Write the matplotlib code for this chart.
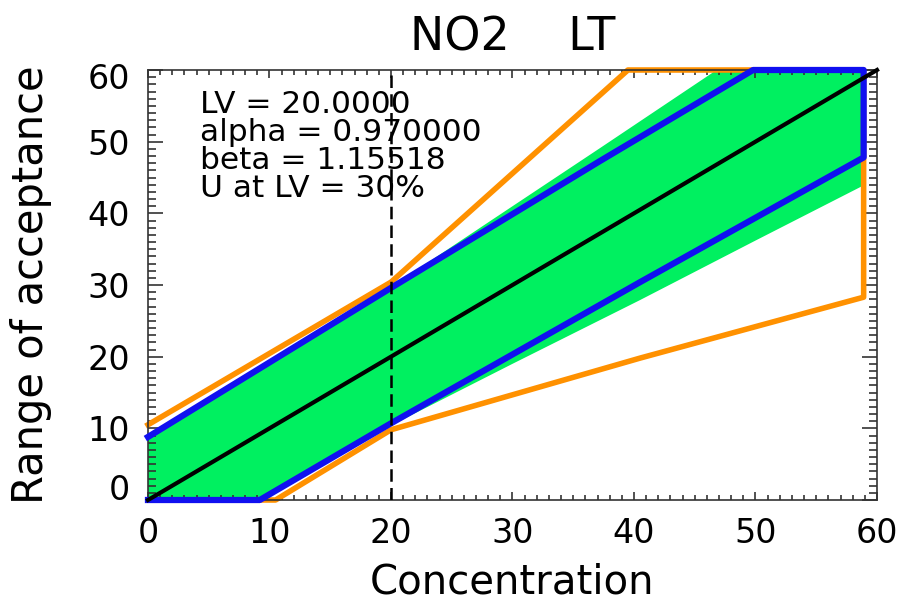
import matplotlib
matplotlib.use("Agg")
import matplotlib.pyplot as plt
from matplotlib.ticker import MultipleLocator
from matplotlib.transforms import ScaledTranslation

# --- values ---
lv = 20.0
annot = ["LV = 20.0000", "alpha = 0.970000", "beta = 1.15518", "U at LV = 30%"]

# green acceptance band (upper edge, lower edge)
green_up_x = [0, 20, 28.5, 37.2, 46.8, 58.9]
green_up_y = [8.8, 29.7, 39.3, 49.1, 60, 60]
green_lo_x = [58.9, 50, 40.5, 30, 20, 9.2, 0]
green_lo_y = [43.9, 36.2, 27.9, 19.0, 10.4, 0, 0]

# blue outline
blue_x = [0, 20, 37.2, 49.8, 58.9, 58.9, 40.5, 20, 9.2, 0]
blue_y = [8.8, 29.6, 47.3, 60, 60, 47.8, 30.4, 10.7, 0, 0]

# orange outline
orange_x = [0, 20, 39.5, 58.9, 58.9, 40.5, 20, 10.5, 0]
orange_y = [10.5, 30.4, 60, 60, 28.3, 19.8, 9.8, 0, 0]

# 1:1 line
diag_x = [0, 60]
diag_y = [0, 60]

xticks = [0, 10, 20, 30, 40, 50, 60]
yticks = [0, 10, 20, 30, 40, 50, 60]

plt.rcParams["font.family"] = ["DejaVu Sans"]

fig = plt.figure(figsize=(9.04, 6.03), dpi=100)
ax = fig.add_axes([148 / 904, 103 / 603, 729 / 904, 430 / 603])

ax.fill(green_up_x + green_lo_x, green_up_y + green_lo_y,
        color="#00F060", lw=0, zorder=1)
ax.plot(orange_x, orange_y, color="#FF9100", lw=4.0, clip_on=False,
        solid_joinstyle="round", zorder=2)
ax.plot(blue_x, blue_y, color="#1010F0", lw=4.5, clip_on=False,
        solid_joinstyle="round", zorder=3)
ax.plot(diag_x, diag_y, color="black", lw=3.0, clip_on=False, zorder=4)
ax.axvline(lv, color="black", lw=1.8, dashes=(5, 2.5), zorder=5)

base = [113, 141, 169, 197]
for s, yb in zip(annot, base):
    ax.text((200 - 148) / 729, (500 - yb) / 430, s, transform=ax.transAxes,
            fontsize=22.5, va="baseline", ha="left", zorder=6)

ax.set_xlim(0, 60)
ax.set_ylim(0, 60)
ax.set_xticks(xticks)
ax.set_yticks(yticks)
ax.xaxis.set_minor_locator(MultipleLocator(1))
ax.yaxis.set_minor_locator(MultipleLocator(1))
ax.tick_params(axis="both", which="both", direction="in", top=True, right=True,
               color="#333333", width=1.2)
ax.tick_params(axis="x", which="major", length=6, labelsize=24, pad=12)
ax.tick_params(axis="x", which="minor", length=3.5)
ax.tick_params(axis="y", which="major", length=11, labelsize=24, pad=13)
ax.tick_params(axis="y", which="minor", length=5.5)
for sp in ax.spines.values():
    sp.set_linewidth(1.2)
    sp.set_color("#333333")

# IDL nudges the end labels inward
labels = ax.get_yticklabels()
labels[0].set_transform(labels[0].get_transform()
                        + ScaledTranslation(0, 13 / 100, fig.dpi_scale_trans))
labels[-1].set_transform(labels[-1].get_transform()
                         + ScaledTranslation(0, -6 / 100, fig.dpi_scale_trans))

ax.set_title("NO2    LT", fontsize=33, pad=14)
ax.set_xlabel("Concentration", fontsize=29)
ax.xaxis.set_label_coords(0.5, (500 - 562) / 430)
ax.xaxis.label.set_va("top")
ax.set_ylabel("Range of acceptance", fontsize=30)
ax.yaxis.set_label_coords((52 - 148) / 729, 0.5)

fig.savefig("out.png", dpi=100)
